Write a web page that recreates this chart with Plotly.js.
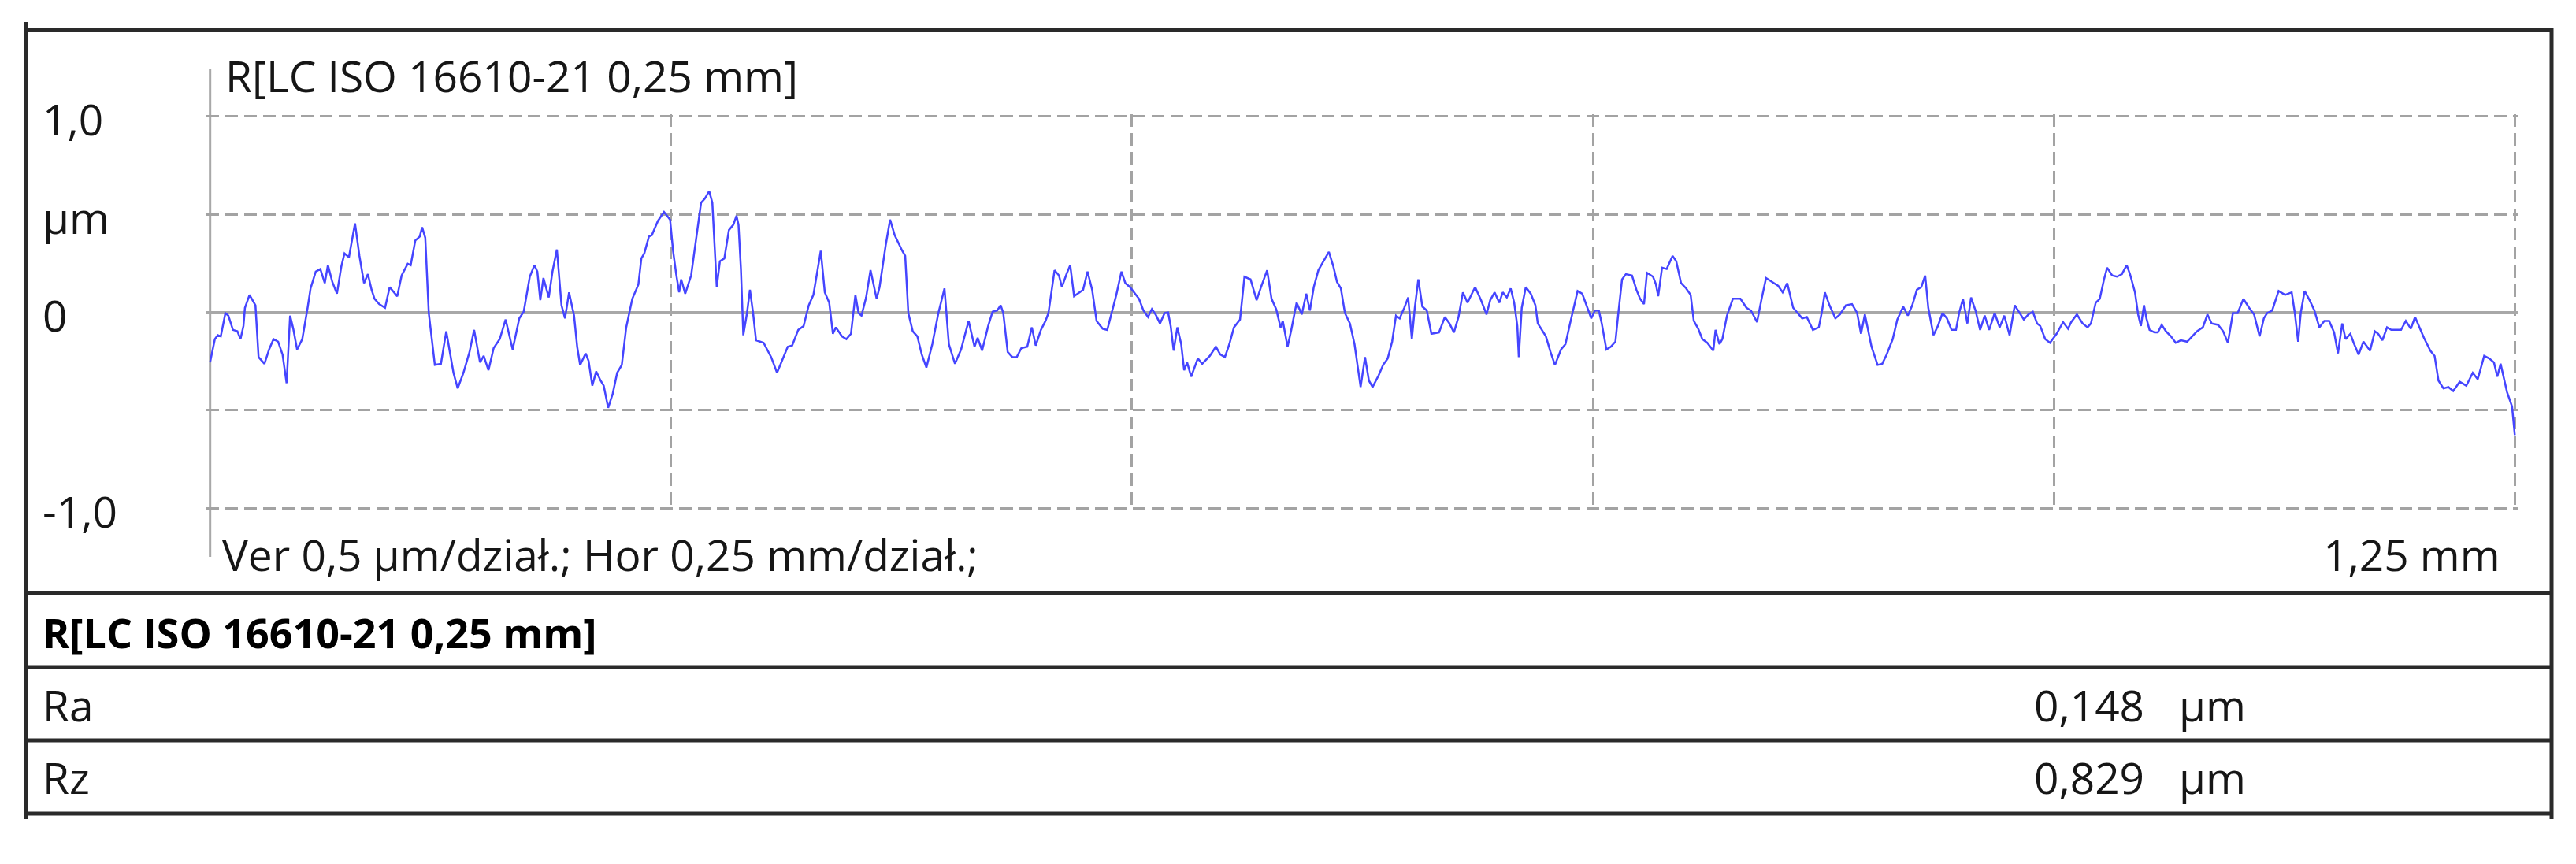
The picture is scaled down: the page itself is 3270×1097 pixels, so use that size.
<!DOCTYPE html>
<html>
<head>
<meta charset="utf-8">
<script src="https://cdn.plot.ly/plotly-3.0.1.min.js"></script>
<style>html,body{margin:0;padding:0;background:#fff;}#chart{width:3270px;height:1097px;}</style>
</head>
<body>
<div id="chart"></div>
<script>
// ---- Data ----
const profileX = [
0.0000,0.0026,0.0042,0.0058,0.0083,0.0099,0.0124,0.0148,0.0165,0.0181,0.0189,0.0214,0.0246,0.0263,0.0295,0.0320,0.0344,0.0369,0.0393,0.0415,
0.0434,0.0451,0.0472,0.0500,0.0529,0.0545,0.0573,0.0598,0.0622,0.0639,0.0663,0.0688,0.0712,0.0729,0.0753,0.0786,0.0810,0.0835,0.0856,0.0876,
0.0892,0.0917,0.0949,0.0974,0.1015,0.1039,0.1072,0.1088,0.1113,0.1137,0.1150,0.1167,0.1186,0.1219,0.1252,0.1281,0.1298,0.1320,0.1343,0.1374,
0.1407,0.1432,0.1464,0.1484,0.1510,0.1538,0.1571,0.1603,0.1641,0.1677,0.1701,0.1734,0.1759,0.1775,0.1791,0.1808,0.1837,0.1857,0.1881,0.1906,
0.1925,0.1947,0.1974,0.1991,0.2007,0.2037,0.2053,0.2073,0.2094,0.2118,0.2135,0.2159,0.2184,0.2208,0.2233,0.2257,0.2290,0.2323,0.2339,0.2355,
0.2380,0.2396,0.2429,0.2462,
0.2495,0.2511,0.2528,0.2544,0.2555,0.2577,0.2609,0.2634,0.2663,0.2683,0.2707,0.2724,0.2748,0.2765,0.2789,0.2814,0.2838,0.2855,0.2866,0.2879,
0.2892,0.2912,0.2928,0.2945,0.2961,0.3002,0.3043,0.3075,0.3108,0.3133,0.3157,0.3190,0.3219,0.3247,0.3272,0.3312,0.3334,0.3358,0.3378,0.3394,
0.3427,0.3451,0.3476,0.3500,0.3517,0.3533,0.3558,0.3582,0.3615,0.3631,0.3664,0.3688,0.3713,0.3738,0.3754,0.3770,0.3787,0.3811,0.3836,0.3860,
0.3885,0.3917,0.3950,0.3983,0.4007,0.4040,0.4073,0.4114,0.4146,0.4163,0.4187,0.4220,0.4244,0.4269,0.4288,0.4302,0.4326,0.4351,0.4375,0.4400,
0.4432,0.4457,0.4478,0.4506,0.4531,0.4547,0.4580,0.4604,0.4620,0.4645,0.4665,0.4686,0.4719,0.4735,0.4759,0.4784,0.4808,0.4841,0.4866,0.4890,
0.4915,0.4943,
0.4964,0.4989,0.5010,0.5038,0.5062,0.5087,0.5108,0.5128,0.5152,0.5177,0.5196,0.5210,0.5226,0.5246,0.5267,0.5283,0.5299,0.5321,0.5357,0.5381,
0.5422,0.5455,0.5479,0.5504,0.5528,0.5553,0.5586,0.5610,0.5643,0.5676,0.5700,0.5733,0.5757,0.5782,0.5806,0.5818,0.5844,0.5864,0.5893,0.5921,
0.5945,0.5965,0.5986,0.6011,0.6035,0.6068,0.6092,0.6112,0.6133,0.6155,0.6182,0.6207,0.6223,0.6240,0.6264,0.6285,0.6305,0.6338,0.6362,0.6387,
0.6411,0.6432,0.6452,0.6477,0.6498,0.6518,0.6534,0.6553,0.6575,0.6599,0.6624,0.6665,0.6697,0.6722,0.6746,0.6771,0.6795,0.6820,0.6861,0.6893,
0.6923,0.6943,0.6967,0.6992,0.7011,0.7033,0.7054,0.7073,0.7090,0.7098,0.7114,0.7136,0.7163,0.7188,0.7201,0.7245,0.7270,0.7294,0.7327,0.7351,
0.7376,0.7397,0.7417,
0.7442,0.7466,0.7491,0.7511,0.7532,0.7548,0.7573,0.7597,0.7622,0.7638,0.7658,0.7679,0.7712,0.7736,0.7756,0.7777,0.7793,0.7826,0.7842,0.7854,
0.7875,0.7900,0.7932,0.7952,0.7978,0.8006,0.8030,0.8047,0.8071,0.8093,0.8120,0.8153,0.8165,0.8186,0.8202,0.8227,0.8259,0.8300,0.8333,0.8357,
0.8390,0.8415,0.8439,0.8472,0.8505,0.8529,0.8554,0.8586,0.8619,0.8635,0.8660,0.8693,0.8725,0.8742,0.8758,0.8783,0.8815,0.8840,0.8872,0.8905,
0.8933,0.8954,0.8975,0.8995,0.9011,0.9044,0.9069,0.9093,0.9126,0.9151,0.9183,0.9208,0.9232,0.9257,0.9281,0.9302,0.9319,0.9347,0.9371,0.9396,
0.9420,0.9445,0.9469,0.9486,0.9507,0.9531,0.9551,0.9575,0.9600,0.9625,0.9649,0.9679,0.9706,0.9731,0.9760,0.9788,0.9813,0.9837,0.9862,0.9886,
0.9909,0.9926,0.9953,0.9979,1.0015,1.0050,1.0077,1.0094,1.0125,1.0156,1.0183,1.0201,1.0227,1.0249,1.0272,1.0289,1.0316,1.0342,1.0369,1.0395,
1.0413,1.0440,1.0457,1.0472,1.0489,1.0502,1.0519,1.0546,1.0564,1.0585,1.0608,1.0635,1.0661,1.0688,1.0723,1.0750,1.0776,1.0808,1.0833,1.0856,
1.0891,1.0918,1.0944,1.0971,1.0997,1.1028,1.1059,1.1086,1.1116,1.1139,1.1157,1.1184,1.1219,1.1254,1.1290,1.1307,1.1325,1.1339,1.1360,1.1387,
1.1413,1.1440,1.1467,1.1493,1.1520,1.1541,1.1564,1.1582,1.1608,1.1626,1.1653,1.1679,1.1715,1.1741,1.1759,1.1782,1.1807,1.1830,1.1856,1.1883,
1.1909,1.1936,1.1959,1.1980,1.2007,1.2042,1.2065,1.2086,1.2113,1.2140,1.2166,1.2201,1.2237,1.2272,1.2299,1.2334,1.2361,1.2387,1.2405,1.2423,
1.2440,1.2458,1.2485,1.2500
];
const profileY = [
-0.256,-0.137,-0.117,-0.123,-0.004,-0.017,-0.090,-0.097,-0.137,-0.070,0.023,0.089,0.036,-0.229,-0.263,-0.190,-0.137,-0.150,-0.216,-0.362,
-0.017,-0.084,-0.190,-0.137,0.023,0.122,0.208,0.221,0.149,0.241,0.155,0.095,0.235,0.301,0.281,0.454,0.288,0.149,0.195,0.115,
0.069,0.042,0.023,0.129,0.082,0.188,0.248,0.241,0.367,0.387,0.434,0.381,-0.004,-0.269,-0.263,-0.097,-0.190,-0.309,-0.389,-0.309,
-0.203,-0.090,-0.256,-0.223,-0.296,-0.183,-0.137,-0.037,-0.190,-0.031,0.003,0.182,0.241,0.208,0.062,0.175,0.076,0.208,0.321,0.036,
-0.031,0.102,-0.017,-0.176,-0.269,-0.210,-0.249,-0.375,-0.302,-0.349,-0.375,-0.488,-0.415,-0.309,-0.269,-0.077,0.069,0.142,0.275,0.301,
0.387,0.394,0.467,0.513,
0.473,0.314,0.195,0.102,0.168,0.095,0.188,0.354,0.560,0.580,0.619,0.560,0.129,0.261,0.275,0.420,0.447,0.493,0.447,0.221,
-0.117,-0.004,0.115,-0.004,-0.143,-0.156,-0.229,-0.309,-0.229,-0.176,-0.170,-0.090,-0.070,0.036,0.089,0.314,0.102,0.049,-0.110,-0.077,
-0.123,-0.137,-0.110,0.089,-0.004,-0.017,0.076,0.215,0.069,0.129,0.341,0.473,0.394,0.341,0.314,0.288,-0.004,-0.097,-0.123,-0.216,
-0.282,-0.163,-0.004,0.122,-0.163,-0.263,-0.190,-0.044,-0.176,-0.130,-0.196,-0.070,0.003,0.009,0.036,-0.004,-0.203,-0.229,-0.229,-0.183,
-0.176,-0.077,-0.170,-0.090,-0.044,-0.004,0.215,0.188,0.129,0.195,0.241,0.082,0.102,0.115,0.208,0.115,-0.044,-0.084,-0.090,-0.004,
0.089,0.208,
0.149,0.129,0.102,0.069,0.009,-0.024,0.016,-0.011,-0.057,-0.004,-0.001,-0.070,-0.196,-0.077,-0.163,-0.296,-0.256,-0.329,-0.236,-0.263,
-0.223,-0.176,-0.216,-0.229,-0.163,-0.077,-0.037,0.182,0.168,0.062,0.129,0.215,0.069,0.016,-0.077,-0.044,-0.176,-0.090,0.049,-0.011,
0.095,0.009,0.129,0.215,0.255,0.308,0.235,0.155,0.122,-0.004,-0.057,-0.163,-0.269,-0.382,-0.229,-0.349,-0.382,-0.322,-0.269,-0.236,
-0.150,-0.017,-0.031,0.023,0.076,-0.137,0.023,0.168,0.029,0.009,-0.110,-0.103,-0.024,-0.057,-0.103,-0.024,0.102,0.049,0.129,0.062,
-0.011,0.062,0.102,0.049,0.102,0.076,0.122,0.049,-0.070,-0.229,0.023,0.129,0.095,0.036,-0.057,-0.123,-0.203,-0.269,-0.190,-0.163,
-0.057,0.023,0.109,
0.095,0.036,-0.031,0.009,0.009,-0.057,-0.190,-0.176,-0.150,-0.004,0.168,0.195,0.188,0.115,0.069,0.042,0.202,0.182,0.142,0.082,
0.228,0.221,0.288,0.261,0.149,0.122,0.089,-0.044,-0.084,-0.137,-0.156,-0.196,-0.090,-0.163,-0.137,-0.017,0.069,0.069,0.023,0.009,
-0.050,0.069,0.175,0.155,0.135,0.102,0.149,0.023,-0.011,-0.031,-0.024,-0.090,-0.077,0.003,0.102,0.036,-0.031,-0.011,0.036,0.042,
-0.004,-0.110,-0.011,-0.110,-0.176,-0.269,-0.263,-0.216,-0.137,-0.037,0.029,-0.017,0.036,0.115,0.129,0.188,0.023,-0.117,-0.070,-0.004,
-0.031,-0.090,-0.090,-0.004,0.069,-0.057,0.076,0.009,-0.090,-0.017,-0.090,-0.004,-0.077,-0.017,-0.117,0.036,-0.004,-0.037,-0.011,0.003,
-0.057,-0.070,-0.137,-0.156,-0.110,-0.050,-0.084,-0.050,-0.011,-0.057,-0.077,-0.057,0.049,0.069,0.168,0.228,0.188,0.182,0.195,0.241,
0.195,0.102,-0.011,-0.070,0.036,-0.031,-0.090,-0.103,-0.103,-0.064,-0.097,-0.123,-0.156,-0.143,-0.150,-0.123,-0.097,-0.077,-0.011,-0.057,
-0.064,-0.097,-0.156,-0.004,-0.004,0.069,0.023,-0.011,-0.123,-0.031,-0.004,0.009,0.109,0.089,0.102,-0.004,-0.150,-0.004,0.109,0.062,
0.009,-0.077,-0.044,-0.044,-0.103,-0.210,-0.057,-0.137,-0.110,-0.156,-0.216,-0.150,-0.196,-0.097,-0.110,-0.143,-0.077,-0.090,-0.090,-0.090,
-0.044,-0.084,-0.024,-0.070,-0.130,-0.196,-0.223,-0.349,-0.389,-0.382,-0.402,-0.355,-0.375,-0.309,-0.342,-0.223,-0.236,-0.256,-0.329,-0.263,
-0.336,-0.408,-0.481,-0.627
];
const xGridVals = [0.25, 0.5, 0.75, 1.0, 1.25];
const yGridVals = [-1.0, -0.5, 0, 0.5, 1.0];
const yTickVals = [1.0, 0.5, 0, -1.0];
const yTickText = ['1,0', 'µm', '0', '-1,0'];
const chartTitle = 'R[LC ISO 16610-21 0,25 mm]';
const scaleNote = 'Ver 0,5 µm/dział.; Hor 0,25 mm/dział.;';
const xEndLabel = '1,25 mm';
const tableTitle = 'R[LC ISO 16610-21 0,25 mm]';
const paramNames = ['Ra', 'Rz'];
const paramValues = ['0,148', '0,829'];
const paramUnits = ['µm', 'µm'];

// ---- Layout geometry (pixels) ----
const FW = 3270, FH = 1097;
const ML = 262, MR = 73, MT = 145, MB = 449;
const PW = FW - ML - MR, PH = FH - MT - MB;
const px = v => (v - ML) / PW;
const py = v => (FH - MB - v) / PH;

const FONT = 'Open Sans, Noto Sans, DejaVu Sans, sans-serif';
const TXT = '#161616';
const FS = 55;

function ann(text, xp, yp, anchor, opts) {
  return Object.assign({
    text: text, xref: 'paper', yref: 'paper', x: px(xp), y: py(yp),
    xanchor: anchor, yanchor: 'middle', showarrow: false,
    font: {family: FONT, size: FS, color: TXT}
  }, opts || {});
}

const annotations = [];
annotations.push(ann(chartTitle, 284, 96, 'left'));
yTickVals.forEach((v, i) => {
  annotations.push({
    text: yTickText[i], xref: 'paper', yref: 'y', x: px(52), y: v,
    xanchor: 'left', yanchor: 'middle', showarrow: false, yshift: -3,
    font: {family: FONT, size: FS, color: TXT}
  });
});
annotations.push(ann(scaleNote, 280, 703, 'left'));
annotations.push(ann(xEndLabel, 3176, 703, 'right'));
annotations.push(ann('<b>' + tableTitle + '</b>', 52, 802, 'left', {font: {family: FONT, size: 52, color: '#000'}}));
const rowY = [894, 987];
paramNames.forEach((n, i) => {
  annotations.push(ann(n, 52, rowY[i], 'left'));
  annotations.push(ann(paramValues[i], 2724, rowY[i], 'right'));
  annotations.push(ann(paramUnits[i], 2764, rowY[i], 'left'));
});

const BORDER = '#2a2a2a';
const shapes = [];
function hline(yp, x0p, x1p, w) {
  shapes.push({type: 'line', xref: 'paper', yref: 'paper', x0: px(x0p), x1: px(x1p), y0: py(yp), y1: py(yp),
    line: {color: BORDER, width: w}});
}
function vline(xp, y0p, y1p, w) {
  shapes.push({type: 'line', xref: 'paper', yref: 'paper', x0: px(xp), x1: px(xp), y0: py(y0p), y1: py(y1p),
    line: {color: BORDER, width: w}});
}
hline(38, 31, 3241, 6);
vline(33, 28, 1040, 5);
vline(3239, 36, 1040, 5);
[753, 847, 940, 1033].forEach(y => hline(y, 31, 3241, 5));
// vertical axis line at x = 0
shapes.push({type: 'line', xref: 'x', yref: 'paper', x0: 0, x1: 0, y0: py(87), y1: py(707),
  line: {color: '#a8a8a8', width: 3}, layer: 'below'});

const trace = {
  x: profileX, y: profileY, type: 'scatter', mode: 'lines',
  line: {color: '#4545ff', width: 2.5, shape: 'linear'},
  hoverinfo: 'skip', showlegend: false
};

const layout = {
  width: FW, height: FH,
  margin: {l: ML, r: MR, t: MT, b: MB, pad: 0},
  paper_bgcolor: '#ffffff', plot_bgcolor: '#ffffff',
  showlegend: false,
  xaxis: {
    range: [-0.002, 1.252], tickmode: 'array', tickvals: xGridVals,
    showticklabels: false, ticks: '', showline: false, zeroline: false,
    showgrid: true, gridcolor: '#a3a3a3', gridwidth: 3, griddash: '16px,8px', fixedrange: true
  },
  yaxis: {
    range: [-1.012, 1.012], tickmode: 'array', tickvals: yGridVals,
    showticklabels: false, ticks: '', showline: false,
    zeroline: true, zerolinecolor: '#a8a8a8', zerolinewidth: 4,
    showgrid: true, gridcolor: '#a3a3a3', gridwidth: 3, griddash: '16px,8px', fixedrange: true
  },
  annotations: annotations,
  shapes: shapes
};

Plotly.newPlot('chart', [trace], layout, {staticPlot: true, displayModeBar: false});
</script>
</body>
</html>
